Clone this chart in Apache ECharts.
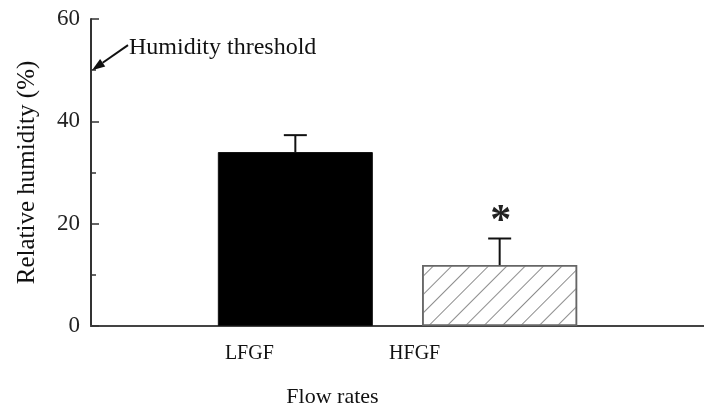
<!DOCTYPE html>
<html>
<head>
<meta charset="utf-8">
<script src="https://cdn.jsdelivr.net/npm/echarts@6/dist/echarts.min.js"></script>
<style>
html,body{margin:0;padding:0;background:#fff;}
#c{width:704px;height:410px;}
</style>
</head>
<body>
<div id="c"></div>
<script>
// ---- data ----
var categories = ['', 'LFGF', 'HFGF', ''];
var means = [null, 34.0, 11.9, null];
var upperErr = [null, 37.3, 17.1, null];
var sigMarks = ['', '', '*', ''];
var yTicks = [0, 20, 40, 60];
var thresholdValue = 50;
var thresholdText = 'Humidity threshold';

var serif = '"Liberation Serif", "Times New Roman", serif';

// label shift styles (px to the left)
var labelShift = { 'LFGF': 92, 'HFGF': 170 };

var barData = means.map(function (v, i) {
  if (v == null) return null;
  if (i === 1) {
    return { value: v, itemStyle: { color: '#000', borderColor: '#111', borderWidth: 1 } };
  }
  return {
    value: v,
    itemStyle: {
      color: '#fff',
      borderColor: '#666',
      borderWidth: 1.5,
      decal: {
        symbol: 'rect',
        symbolSize: 1,
        color: '#8c8c8c',
        dashArrayX: [1, 0],
        dashArrayY: [1, 12],
        rotation: -Math.PI / 4
      }
    }
  };
});

var errData = [];
means.forEach(function (v, i) {
  if (v != null) errData.push([i, v, upperErr[i], sigMarks[i]]);
});

var chart = echarts.init(document.getElementById('c'), null, { renderer: 'canvas' });

chart.setOption({
  animation: false,
  backgroundColor: '#fff',
  grid: { left: 91, right: 0, top: 19, bottom: 84, outerBoundsMode: 'none', containLabel: false },
  xAxis: {
    type: 'category',
    data: categories,
    boundaryGap: false,
    name: 'Flow rates',
    nameLocation: 'middle',
    nameGap: 60,
    nameTextStyle: { fontFamily: serif, fontSize: 22, color: '#111', padding: [0, 130, 0, 0] },
    axisLine: { show: true, lineStyle: { color: '#444', width: 2 } },
    axisTick: { show: false },
    axisLabel: {
      margin: 18,
      interval: 0,
      formatter: function (v) {
        if (!v) return '';
        return '{' + v + '|' + v + '}';
      },
      rich: {
        LFGF: { fontFamily: serif, fontSize: 20, color: '#111', padding: [0, labelShift.LFGF, 0, 0] },
        HFGF: { fontFamily: serif, fontSize: 20, color: '#111', padding: [0, labelShift.HFGF, 0, 0] }
      }
    },
    splitLine: { show: false }
  },
  yAxis: {
    type: 'value',
    min: yTicks[0],
    max: yTicks[yTicks.length - 1],
    interval: yTicks[1] - yTicks[0],
    name: 'Relative humidity (%)',
    nameLocation: 'middle',
    nameGap: 51,
    nameTextStyle: { fontFamily: serif, fontSize: 25, color: '#111' },
    axisLine: { show: true, lineStyle: { color: '#333', width: 2 } },
    axisTick: { show: true, inside: true, length: 8, lineStyle: { color: '#333', width: 1.5 } },
    minorTick: { show: true, splitNumber: 2, length: 5, lineStyle: { color: '#333', width: 1.5 } },
    axisLabel: { margin: 11, fontFamily: serif, fontSize: 23, color: '#222' },
    splitLine: { show: false }
  },
  series: [
    {
      type: 'bar',
      data: barData,
      barWidth: 155,
      z: 2
    },
    {
      type: 'custom',
      data: errData,
      z: 3,
      renderItem: function (params, api) {
        var x = api.value(0);
        var top = api.coord([x, api.value(1)]);
        var up = api.coord([x, api.value(2)]);
        var half = 11.5;
        var children = [
          { type: 'line', shape: { x1: top[0], y1: top[1], x2: up[0], y2: up[1] }, style: { stroke: '#111', lineWidth: 2 } },
          { type: 'line', shape: { x1: up[0] - half, y1: up[1], x2: up[0] + half, y2: up[1] }, style: { stroke: '#111', lineWidth: 2 } }
        ];
        var mark = errData[params.dataIndex][3];
        if (mark) {
          children.push({
            type: 'text',
            style: {
              text: mark, x: up[0] + 1, y: up[1] + 5,
              fontFamily: serif, fontSize: 42, fontWeight: 'bold', fill: '#222',
              align: 'center', verticalAlign: 'bottom'
            }
          });
        }
        return { type: 'group', children: children };
      }
    },
    {
      type: 'custom',
      data: [[0, thresholdValue]],
      z: 5,
      clip: false,
      renderItem: function (params, api) {
        var tip = api.coord([0, api.value(1)]);
        tip[0] += 1;
        var dx = 36, dy = -25;
        var tail = [tip[0] + dx, tip[1] + dy];
        var len = Math.sqrt(dx * dx + dy * dy);
        var ux = dx / len, uy = dy / len;
        var hl = 13, hw = 4.5;
        var bx = tip[0] + ux * hl, by = tip[1] + uy * hl;
        var p1 = [bx - uy * hw, by + ux * hw];
        var p2 = [bx + uy * hw, by - ux * hw];
        return {
          type: 'group',
          children: [
            { type: 'line', shape: { x1: bx, y1: by, x2: tail[0], y2: tail[1] }, style: { stroke: '#111', lineWidth: 2 } },
            { type: 'polygon', shape: { points: [tip, p1, p2] }, style: { fill: '#111' } },
            {
              type: 'text',
              style: {
                text: thresholdText, x: tail[0] + 1, y: tail[1] + 3,
                fontFamily: serif, fontSize: 24, fill: '#111',
                align: 'left', verticalAlign: 'middle'
              }
            }
          ]
        };
      }
    }
  ]
});
</script>
</body>
</html>
